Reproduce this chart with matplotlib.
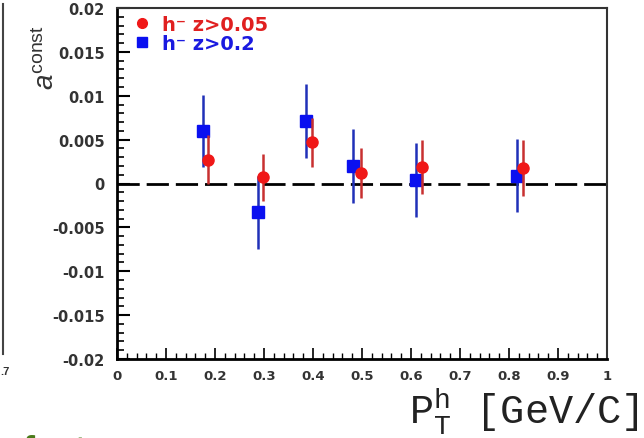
import matplotlib
matplotlib.use("Agg")
import matplotlib.pyplot as plt
from matplotlib.lines import Line2D
from matplotlib.ticker import MultipleLocator, FixedLocator

# ---- data ----
x_red = [0.186, 0.298, 0.397, 0.498, 0.623, 0.828]
y_red = [0.0027, 0.0007, 0.0047, 0.0012, 0.0019, 0.0018]
e_red = [0.0028, 0.0027, 0.0028, 0.0028, 0.0031, 0.0032]

x_blue = [0.175, 0.288, 0.386, 0.482, 0.610, 0.816]
y_blue = [0.0060, -0.0033, 0.0071, 0.0020, 0.0004, 0.0009]
e_blue = [0.0041, 0.0042, 0.0042, 0.0042, 0.0042, 0.0042]

label_red = "h\u207b z>0.05"
label_blue = "h\u207b z>0.2"

xticks = [0, 0.1, 0.2, 0.3, 0.4, 0.5, 0.6, 0.7, 0.8, 0.9, 1.0]
xticklabels = ["0", "0.1", "0.2", "0.3", "0.4", "0.5", "0.6", "0.7", "0.8", "0.9", "1"]
yticks = [-0.02, -0.015, -0.01, -0.005, 0, 0.005, 0.01, 0.015, 0.02]
yticklabels = ["-0.02", "-0.015", "-0.01", "-0.005", "0", "0.005", "0.01", "0.015", "0.02"]

plt.rcParams["mathtext.fontset"] = "custom"
plt.rcParams["mathtext.rm"] = "Liberation Mono"
plt.rcParams["mathtext.it"] = "Liberation Sans:italic"

W, H = 644, 439
fig = plt.figure(figsize=(W / 100, H / 100), dpi=100)
ax = fig.add_axes([117 / W, 1 - 360 / H, (607 - 117) / W, (360 - 9) / H])

ax.set_xlim(0, 1)
ax.set_ylim(-0.02, 0.02)

ax.axhline(0, color="black", lw=2, dashes=(8, 2.5), zorder=1)

ax.errorbar(x_blue, y_blue, yerr=e_blue, fmt="s", color="#0a10f0", ecolor="#2030b8",
            elinewidth=1.8, capsize=0, ms=9, mec="#0a10f0", zorder=3)
ax.errorbar(x_red, y_red, yerr=e_red, fmt="o", color="#f01818", ecolor="#c83030",
            elinewidth=1.8, capsize=0, ms=8, mec="#f01818", zorder=4)

handles = [Line2D([], [], marker="o", ls="none", color="#f01818", ms=7),
           Line2D([], [], marker="s", ls="none", color="#0a10f0", ms=7)]
leg = ax.legend(handles, [label_red, label_blue], loc="upper left",
                bbox_to_anchor=(0.0, 1.03), frameon=False, handlelength=0.8,
                handletextpad=0.6, labelspacing=0.0,
                prop={"family": ["DejaVu Sans"], "weight": "bold", "size": 14})
leg.get_texts()[0].set_color("#e02020")
leg.get_texts()[1].set_color("#1a1ae0")

ax.xaxis.set_major_locator(FixedLocator(xticks))
ax.set_xticklabels(xticklabels)
ax.xaxis.set_minor_locator(MultipleLocator(0.02))
ax.yaxis.set_major_locator(FixedLocator(yticks))
ax.set_yticklabels(yticklabels)
ax.yaxis.set_minor_locator(MultipleLocator(0.001))

ax.tick_params(which="both", direction="in", top=False, right=False, color="black")
ax.tick_params(axis="y", which="major", length=9, width=1.5, pad=9)
ax.tick_params(axis="y", which="minor", length=5, width=1.2)
ax.tick_params(axis="x", which="major", length=8, width=1.2, pad=7)
ax.tick_params(axis="x", which="minor", length=4, width=1.0)
for lab in ax.get_xticklabels():
    lab.set_fontfamily("DejaVu Sans")
    lab.set_fontweight("bold")
    lab.set_fontsize(9.5)
    lab.set_color("#333333")
for lab in ax.get_yticklabels():
    lab.set_fontfamily("DejaVu Sans")
    lab.set_fontweight("bold")
    lab.set_fontsize(10.5)
    lab.set_color("#333333")

for s in ["left", "bottom"]:
    ax.spines[s].set_linewidth(2)
for s in ["top", "right"]:
    ax.spines[s].set_linewidth(1.5)
    ax.spines[s].set_color("#333333")

# y label
fig.text(46 / W, 1 - 58 / H, r"$\mathit{a}^{\mathregular{const}}$", rotation=90,
         ha="center", va="center", fontsize=20, color="#333333",
         family="Liberation Sans")

# x label
fig.text(639 / W, 1 - 424 / H, r"$\mathrm{P}_{\mathrm{T}}^{\mathrm{h}}$ [GeV/C]",
         ha="right", va="baseline", fontsize=29, family="Liberation Mono", color="#222222")

# remnants of neighbouring panels
fig.add_artist(Line2D([3 / W, 3 / W], [1 - 5 / H, 1 - 355 / H], color="#444444", lw=1.5))
fig.text(0 / W, 1 - 372 / H, ".7", ha="left", va="center", fontsize=8,
         family="Liberation Sans", weight="bold", color="#333333")
fig.text(22 / W, 1 - 452 / H, "fact", ha="left", va="center", fontsize=26,
         family="Liberation Sans", weight="bold", color="#4a7a1a")

fig.savefig("out.png", dpi=100)
